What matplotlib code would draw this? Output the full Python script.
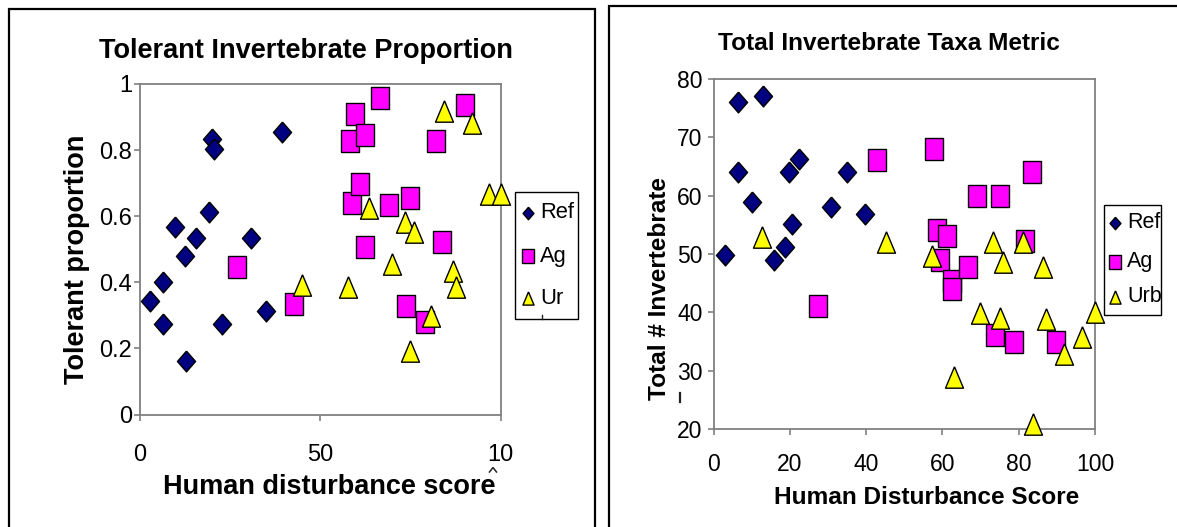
import matplotlib
matplotlib.use("Agg")
import matplotlib.pyplot as plt
from matplotlib.lines import Line2D
from matplotlib.patches import Rectangle
import numpy as np

plt.rcParams['font.family'] = ['Liberation Sans', 'DejaVu Sans']

# ---------------- data: left chart (Tolerant Invertebrate Proportion) ----------------
left_ref_x = [2.7, 6.3, 6.3, 9.6, 12.6, 12.7, 15.6, 19.1, 20.1, 20.4, 22.7, 30.9, 35.0, 39.4]
left_ref_y = [0.342, 0.402, 0.275, 0.568, 0.481, 0.161, 0.535, 0.613, 0.834, 0.804, 0.275, 0.535, 0.313, 0.855]
left_ag_x = [26.9, 42.7, 58.1, 59.6, 58.7, 61.1, 62.4, 62.5, 66.5, 69.0, 74.8, 73.9, 78.9, 82.2, 83.7, 90.2]
left_ag_y = [0.446, 0.334, 0.829, 0.908, 0.641, 0.697, 0.847, 0.507, 0.959, 0.634, 0.654, 0.327, 0.280, 0.827, 0.522, 0.936]
left_ur_x = [44.9, 57.6, 63.6, 69.9, 73.4, 75.9, 74.8, 80.8, 84.4, 86.8, 87.6, 92.2, 96.7, 100.1]
left_ur_y = [0.392, 0.385, 0.624, 0.456, 0.583, 0.552, 0.193, 0.298, 0.919, 0.435, 0.385, 0.883, 0.666, 0.666]
left_xticks = [0, 50, 100]
left_xticklabels = ["0", "50", "10"]
left_yticks = [0, 0.2, 0.4, 0.6, 0.8, 1.0]
left_yticklabels = ["0", "0.2", "0.4", "0.6", "0.8", "1"]
left_labels = ["Ref", "Ag", "Ur"]

# ---------------- data: right chart (Total Invertebrate Taxa Metric) ----------------
right_ref_x = [3.1, 6.4, 6.5, 10.0, 12.9, 15.9, 18.8, 19.8, 20.6, 22.4, 30.9, 34.9, 39.6]
right_ref_y = [49.9, 76.1, 64.1, 59.0, 77.1, 48.9, 51.2, 64.1, 55.1, 66.3, 58.0, 64.1, 56.9]
right_ag_x = [27.4, 42.9, 57.7, 58.6, 61.2, 59.5, 62.4, 62.4, 66.6, 69.1, 75.0, 73.7, 78.8, 81.7, 83.4, 89.7]
right_ag_y = [41.1, 66.1, 68.0, 54.1, 53.1, 49.0, 45.4, 44.0, 47.8, 59.9, 59.9, 36.1, 34.9, 52.2, 64.1, 34.9]
right_urb_x = [12.8, 45.2, 57.2, 63.1, 69.9, 73.2, 75.1, 75.9, 81.1, 83.8, 86.4, 87.2, 91.9, 96.5, 99.9]
right_urb_y = [52.9, 52.0, 49.7, 28.9, 39.9, 52.0, 39.1, 48.7, 52.0, 20.8, 47.7, 38.9, 32.9, 35.7, 40.1]
right_xticks = [0, 20, 40, 60, 80, 100]
right_yticks = [20, 30, 40, 50, 60, 70, 80]
right_labels = ["Ref", "Ag", "Urb"]

# ---------------- styling ----------------
W, H = 1177, 527
def fx(x): return x / W
def fy(y): return 1 - y / H

DIAMOND = [(0, 1), (0.87, 0), (0, -1), (-0.87, 0), (0, 1)]
SQUARE = [(-0.82, -1), (0.82, -1), (0.82, 1), (-0.82, 1), (-0.82, -1)]
TRIANGLE = [(0, 1), (0.84, -1), (-0.84, -1), (0, 1)]
styles = [
    dict(marker=DIAMOND, color='#000080', size=15.0),
    dict(marker=SQUARE, color='#FF00FF', size=15.8),
    dict(marker=TRIANGLE, color='#FFFF00', size=15.4),
]
SPINE = '#808080'

fig = plt.figure(figsize=(W / 100, H / 100), dpi=100)

def style_axes(ax, tick_fs, xpad, ypad):
    for s in ax.spines.values():
        s.set_color(SPINE)
        s.set_linewidth(1.3)
    ax.tick_params(axis='both', direction='out', length=4, width=1.2, color=SPINE,
                   labelsize=tick_fs, top=False, right=False)
    ax.tick_params(axis='x', pad=xpad)
    ax.tick_params(axis='y', pad=ypad)

def scatter(ax, xs, ys, st):
    ax.plot(xs, ys, linestyle='none', marker=st['marker'], markersize=st['size'],
            markerfacecolor=st['color'], markeredgecolor='black', markeredgewidth=1.0,
            clip_on=False, zorder=3)

def legend(x0, y0, x1, y1, labels, ys, mx, tx, fs):
    rect = Rectangle((fx(x0), fy(y1)), fx(x1) - fx(x0), fy(y0) - fy(y1),
                     transform=fig.transFigure, facecolor='white', edgecolor='black',
                     linewidth=1.0, zorder=5)
    fig.add_artist(rect)
    sizes = [9.0, 10.0, 9.5]
    for lab, yy, st, sz in zip(labels, ys, styles, sizes):
        fig.add_artist(Line2D([fx(mx)], [fy(yy)], transform=fig.transFigure,
                              linestyle='none', marker=st['marker'], markersize=sz,
                              markerfacecolor=st['color'], markeredgecolor='black',
                              markeredgewidth=1.0, zorder=6))
        t = fig.text(fx(tx), fy(yy), lab, fontsize=fs, ha='left', va='center', zorder=6)
        t.set_clip_path(rect)

def fline(xs, ys, lw=1.6, color='black'):
    fig.add_artist(Line2D([fx(v) for v in xs], [fy(v) for v in ys], transform=fig.transFigure,
                          color=color, linewidth=lw, solid_joinstyle='miter', zorder=10))

# ---- left chart ----
axL = fig.add_axes([fx(140), fy(414.5), fx(500.6) - fx(140), fy(84) - fy(414.5)])
axL.set_xlim(0, 100)
axL.set_ylim(0, 1)
axL.set_xticks(left_xticks)
axL.set_xticklabels(left_xticklabels)
axL.set_yticks(left_yticks)
axL.set_yticklabels(left_yticklabels)
style_axes(axL, 17, 17, 1.8)
for xs, ys, st in zip([left_ref_x, left_ag_x, left_ur_x], [left_ref_y, left_ag_y, left_ur_y], styles):
    scatter(axL, xs, ys, st)

fig.text(fx(306), fy(57.8), "Tolerant Invertebrate Proportion", fontsize=19.5,
         fontweight='bold', ha='center', va='baseline')
fig.text(fx(329), fy(494), "Human disturbance score", fontsize=19.5,
         fontweight='bold', ha='center', va='baseline')
fig.text(fx(77.5), fy(259), "Tolerant proportion", fontsize=19.5, fontweight='bold',
         ha='center', va='center', rotation=90)
legend(515, 192, 578, 319, left_labels, [213, 256, 298], 528, 540, 15.8)
# clipped remnants of wrapped labels
fline([489.5, 493, 496.5], [472, 467.5, 472], lw=1.1, color='#222222')
fline([542, 542], [315, 319], lw=1.0, color='#222222')

# ---- right chart ----
axR = fig.add_axes([fx(713.5), fy(429), fx(1095) - fx(713.5), fy(79) - fy(429)])
axR.set_xlim(0, 100)
axR.set_ylim(20, 80)
axR.set_xticks(right_xticks)
axR.set_yticks(right_yticks)
style_axes(axR, 16.5, 13, 4)
for xs, ys, st in zip([right_ref_x, right_ag_x, right_urb_x], [right_ref_y, right_ag_y, right_urb_y], styles):
    scatter(axR, xs, ys, st)

fig.text(fx(889), fy(50.4), "Total Invertebrate Taxa Metric", fontsize=17.6,
         fontweight='bold', ha='center', va='baseline')
fig.text(fx(927), fy(504), "Human Disturbance Score", fontsize=17.6,
         fontweight='bold', ha='center', va='baseline')
fig.text(fx(660), fy(289), "Total # Invertebrate", fontsize=17.6, fontweight='bold',
         ha='center', va='center', rotation=90)
legend(1104, 205, 1161, 315, right_labels, [223, 262, 297], 1115, 1127, 15.5)
fline([679.5, 679.5], [393, 402], lw=1.6, color='#222222')

# ---- panel borders ----
fline([8.5, 8.5, 595, 595], [540, 9, 9, 540])
fline([609, 609, 1190], [540, 6, 6])

fig.savefig("out.png", dpi=100)
